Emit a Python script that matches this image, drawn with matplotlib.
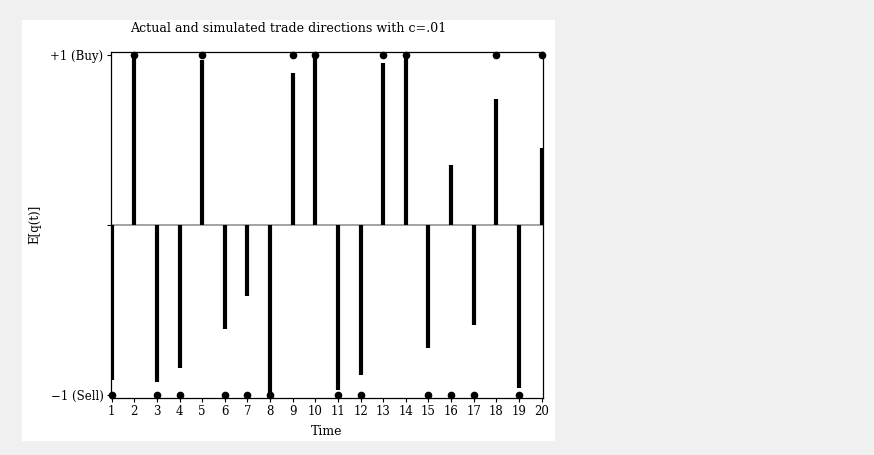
import matplotlib.pyplot as plt
from matplotlib.patches import Rectangle

# trade times, expected direction E[q(t)] and actual trade direction
time = list(range(1, 21))
expected = [-0.91, 0.99, -0.92, -0.84, 0.97, -0.61, -0.42, -1.0, 0.89, 1.0,
            -0.97, -0.88, 0.95, 1.0, -0.72, 0.35, -0.59, 0.74, -0.96, 0.45]
actual = [-1, 1, -1, -1, 1, -1, -1, -1, 1, 1,
          -1, -1, 1, 1, -1, -1, -1, 1, -1, 1]
ytick_vals = [-1, 0, 1]
ytick_labels = ["\u22121 (Sell)", "", "+1 (Buy)"]

W, H = 874, 455
plt.rcParams["font.family"] = ["DejaVu Serif"]

fig = plt.figure(figsize=(W / 100, H / 100), dpi=100, facecolor="#f0f0f0")
fig.patches.append(Rectangle((22 / W, 1 - 441 / H), (555 - 22) / W, (441 - 20) / H,
                             transform=fig.transFigure, facecolor="white",
                             edgecolor="none", zorder=-5))

ax = fig.add_axes([110.5 / W, 1 - 398 / H, (543 - 110.5) / W, (398 - 52.3) / H])
ax.set_zorder(2)
ax.set_facecolor("white")
ax.axhline(0, color="#8c8c8c", lw=1.1, zorder=1)
ax.vlines(time, 0, expected, color="black", lw=3, zorder=2)
ax.plot(time, actual, "o", color="black", ms=4.5, clip_on=False, zorder=3)

ax.set_xlim(0.95, 20.06)
ax.set_ylim(-1.016, 1.013)
ax.set_xticks(time)
ax.set_yticks(ytick_vals)
ax.set_yticklabels(ytick_labels)
ax.tick_params(length=3, width=0.8, labelsize=8.5, pad=2)
for s in ax.spines.values():
    s.set_linewidth(0.9)

ax.set_xlabel("Time", fontsize=9, labelpad=5)
fig.text(35 / W, 1 - 224 / H, "E[q(t)]", rotation=90, ha="center", va="center", fontsize=8.5)
fig.text(288 / W, 1 - 29 / H, "Actual and simulated trade directions with c=.01",
         ha="center", va="center", fontsize=9.1)

fig.savefig("out.png", dpi=100, facecolor=fig.get_facecolor())
